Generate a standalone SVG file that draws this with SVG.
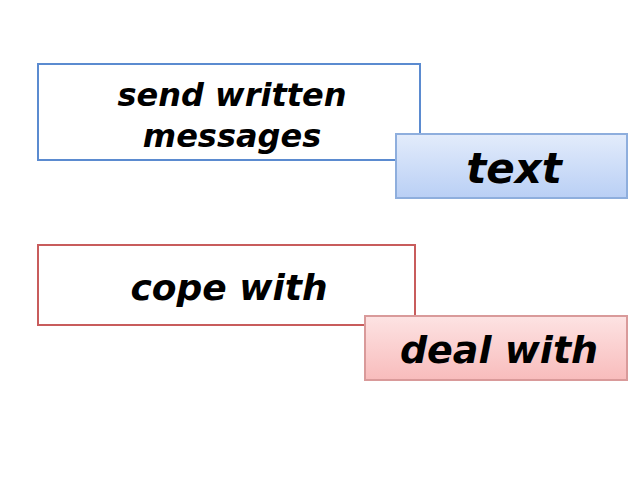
<svg xmlns="http://www.w3.org/2000/svg" width="640" height="480" viewBox="0 0 640 480">
<defs>
<linearGradient id="gb" x1="0" y1="0" x2="0" y2="1"><stop offset="0" stop-color="#e3ecfb"/><stop offset="1" stop-color="#b9cff5"/></linearGradient>
<linearGradient id="gr" x1="0" y1="0" x2="0" y2="1"><stop offset="0" stop-color="#fde3e3"/><stop offset="1" stop-color="#f8bcbc"/></linearGradient>
</defs>
<style>
text{font-family:"DejaVu Sans",sans-serif;font-weight:bold;font-style:italic;fill:#000;text-anchor:middle}
</style>
<rect width="640" height="480" fill="#fff"/>
<g id="n1"><rect x="38" y="64" width="382" height="96" fill="#fff" stroke="#5b8bd0" stroke-width="2"/>
<text x="232" y="106" font-size="32">send written</text><text x="232" y="147" font-size="32">messages</text></g>
<g id="n2"><rect x="396" y="134" width="231" height="64" fill="url(#gb)" stroke="#8eaedd" stroke-width="2"/>
<text x="514" y="183" font-size="42">text</text></g>
<g id="n3"><rect x="38" y="245" width="377" height="80" fill="#fff" stroke="#c85c5c" stroke-width="2"/>
<text x="229" y="300" font-size="36">cope with</text></g>
<g id="n4"><rect x="365" y="316" width="262" height="64" fill="url(#gr)" stroke="#d99a9a" stroke-width="2"/>
<text x="499" y="363" font-size="38">deal with</text></g>
</svg>
